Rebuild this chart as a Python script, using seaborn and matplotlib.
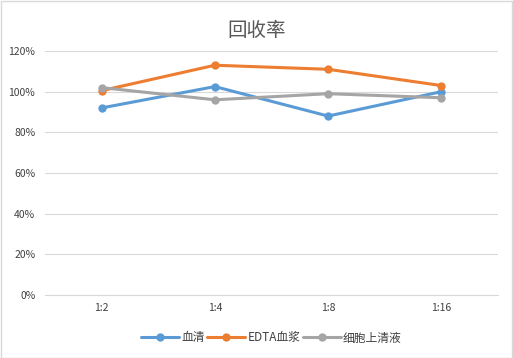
import matplotlib
matplotlib.use("Agg")
import matplotlib.pyplot as plt
import matplotlib.patches as mpatches
import pandas as pd
import seaborn as sns
from matplotlib.ticker import PercentFormatter

categories = ["1:2", "1:4", "1:8", "1:16"]
serum = [0.92, 1.025, 0.88, 1.00]
edta = [1.005, 1.13, 1.11, 1.03]
supernatant = [1.02, 0.96, 0.99, 0.97]
series_names = ["血清", "EDTA血浆", "细胞上清液"]
colors = ["#5B9BD5", "#ED7D31", "#A5A5A5"]

df = pd.DataFrame({
    "x": list(range(len(categories))) * 3,
    "value": serum + edta + supernatant,
    "series": [s for s in series_names for _ in categories],
})

sns.set_style("white")
plt.rcParams["font.family"] = ["Noto Sans CJK SC", "DejaVu Sans"]

fig = plt.figure(figsize=(5.13, 3.58), dpi=100)
ax = fig.add_axes([45 / 513, 1 - 295 / 358, 453 / 513, 244 / 358])

sns.lineplot(data=df, x="x", y="value", hue="series", hue_order=series_names,
             palette=colors, marker="o", markersize=6, markeredgewidth=0,
             linewidth=2.2, ax=ax, legend=True)

ax.set_xlim(-0.5, len(categories) - 0.5)
ax.set_ylim(0, 1.2)
ax.set_yticks([0, 0.2, 0.4, 0.6, 0.8, 1.0, 1.2])
ax.yaxis.set_major_formatter(PercentFormatter(1.0, decimals=0))
ax.set_xticks(range(len(categories)))
ax.set_xticklabels(categories)
ax.tick_params(axis="both", length=0, labelsize=7.5, colors="#404040")
ax.tick_params(axis="x", pad=6)
ax.tick_params(axis="y", pad=7)
ax.grid(axis="y", color="#D9D9D9", linewidth=0.8)
ax.set_axisbelow(True)
for side in ["top", "right", "left"]:
    ax.spines[side].set_visible(False)
ax.spines["bottom"].set_color("#D9D9D9")
ax.spines["bottom"].set_linewidth(0.8)
ax.set_xlabel("")
ax.set_ylabel("")

fig.text(0.5, 1 - 31 / 358, "回收率", ha="center", va="center", fontsize=14, color="#595959")

handles, labels = ax.get_legend_handles_labels()
ax.legend(handles, labels, loc="center", bbox_to_anchor=(0.5, (295 - 338) / 244),
          ncol=3, frameon=False, fontsize=8.5, handlelength=3.2, columnspacing=0.2,
          handletextpad=0.2, labelcolor="#404040")

fig.patches.append(mpatches.Rectangle((0.001, 0.001), 0.997, 0.997, transform=fig.transFigure,
                                      fill=False, edgecolor="#D9D9D9", linewidth=1))

fig.savefig("out.png", dpi=100)
